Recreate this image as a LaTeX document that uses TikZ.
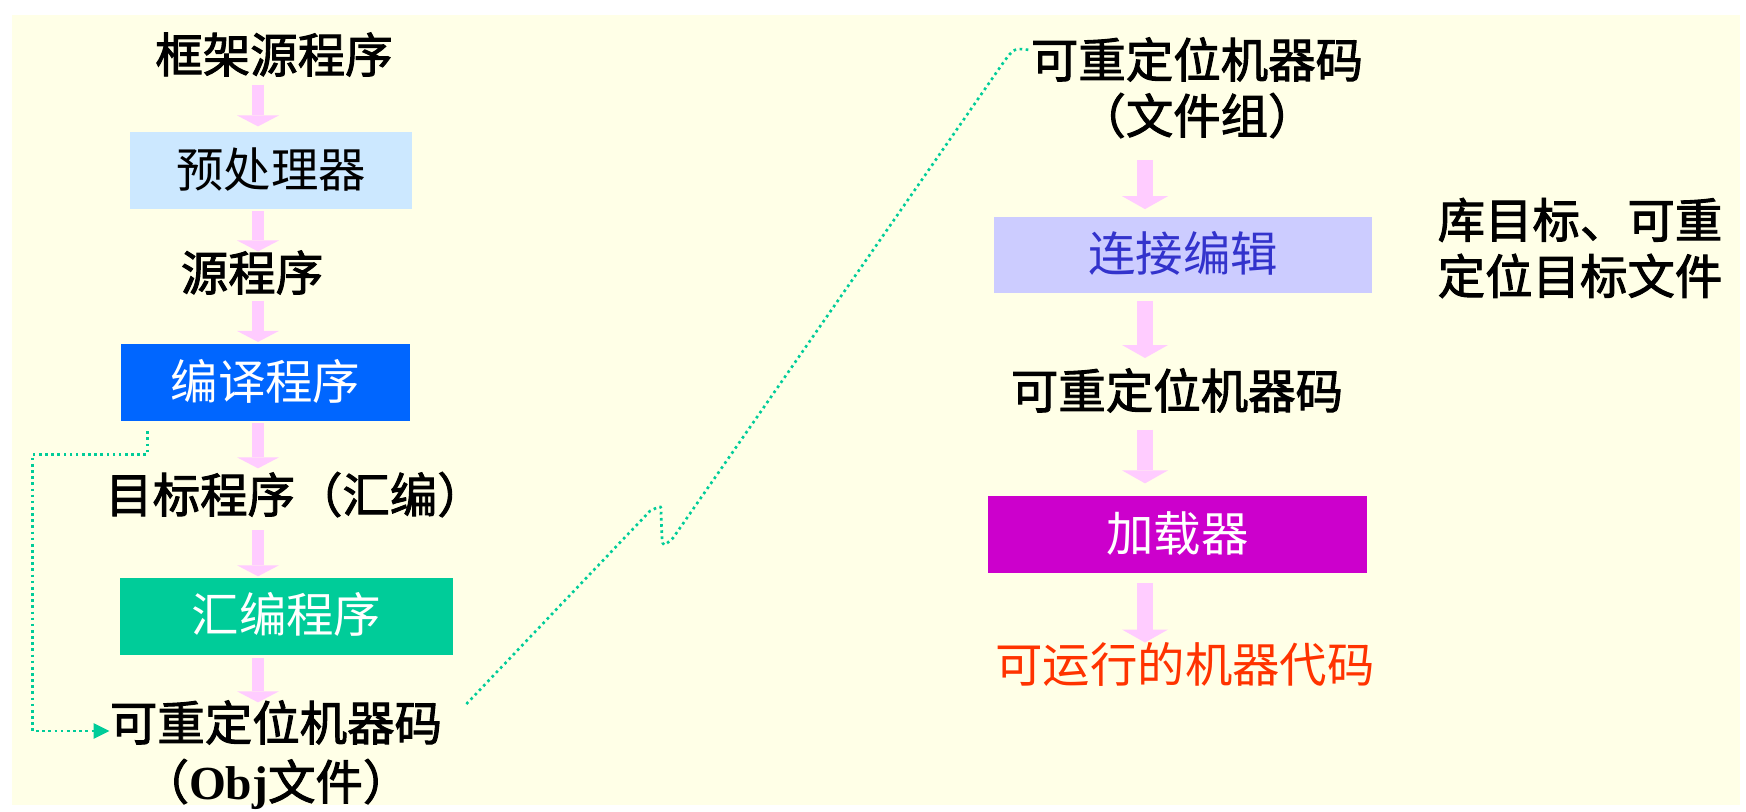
\documentclass[tikz,border=0pt]{standalone}
\usepackage{fontspec}
\setmainfont{Noto Sans CJK SC}
\newfontfamily\grueso{Noto Sans CJK SC}[FakeBold=2]
\newfontfamily\objfont{Liberation Serif}
\usetikzlibrary{arrows.meta,calc}

\definecolor{fondo}{HTML}{FFFFE7}
\definecolor{celeste}{HTML}{CCE8FF}
\definecolor{azul}{HTML}{0066FF}
\definecolor{verde}{HTML}{00CC99}
\definecolor{lila}{HTML}{CCCCFF}
\definecolor{azulosc}{HTML}{3333CC}
\definecolor{morado}{HTML}{CC00CC}
\definecolor{naranja}{HTML}{FF3300}
\definecolor{rosa}{HTML}{FFCCFF}

\tikzset{
  lbl/.style={inner sep=0pt, text height=21.6pt, text depth=2.7pt,
    font=\fontsize{27}{33}\selectfont},
  negro/.style={lbl, font=\grueso\fontsize{27}{33}\selectfont},
  caja/.style={lbl, minimum height=1.54cm},
  flecha/.style={draw=rosa, line width=0.24cm,
    -{Triangle[width=0.84cm, length=0.22cm, line width=0pt]}},
  flechaR/.style={draw=rosa, line width=0.32cm,
    -{Triangle[width=0.92cm, length=0.26cm, line width=0pt]}},
  punteado/.style={draw=verde, dotted, line width=1.5pt}
}

\begin{document}
\begin{tikzpicture}[x=0.02cm, y=-0.02cm]

  % Fondo
  \useasboundingbox (0,0) rectangle (1746,811);
  \fill[white] (0,0) rectangle (1746,811);
  \fill[fondo] (12,15) rectangle (1740,805);

  % Ejes de las flechas
  \coordinate (ejeI) at (258,0);
  \coordinate (ejeD) at (1145,0);

  % Columna izquierda
  \node[negro] (marco) at (274,56) {框架源程序};
  \node[caja, fill=celeste, minimum width=5.64cm]
    (preproc) at (271,170.5) {预处理器};
  \node[negro] (fuente) at (252,274) {源程序};
  \node[caja, fill=azul, text=white, minimum width=5.78cm]
    (compilador) at (265.5,382.5) {编译程序};
  \node[negro] (objeto) at (295,496) {目标程序（汇编）};
  \node[caja, fill=verde, text=white, minimum width=6.66cm]
    (ensamblador) at (286.5,616) {汇编程序};
  \node[negro] (reubic) at (276,724) {可重定位机器码};
  \node[negro] (objarch) at (276,783) {（{\objfont\bfseries Obj}文件）};

  % Columna derecha
  \node[negro] (reubicA) at (1197,61) {可重定位机器码};
  \node[negro] (grupo) at (1197,117) {（文件组）};
  \node[caja, fill=lila, text=azulosc, minimum width=7.56cm]
    (enlace) at (1183,255) {连接编辑};
  \node[inner sep=0pt, align=center, font=\grueso\fontsize{27}{32}\selectfont]
    (biblio) at (1580,248) {库目标、可重\\定位目标文件};
  \node[negro] (reubicB) at (1177,392) {可重定位机器码};
  \node[caja, fill=morado, text=white, minimum width=7.58cm]
    (cargador) at (1177.5,534.5) {加载器};
  \node[lbl, text=naranja] (ejec) at (1185,666) {可运行的机器代码};

  % Flechas izquierda
  \draw[flecha, shorten <=4pt, shorten >=3pt]
    (marco.south -| ejeI) -- (preproc.north -| ejeI);
  \draw[flecha, shorten <=1pt, shorten >=0.5pt]
    (preproc.south -| ejeI) -- (fuente.north -| ejeI);
  \draw[flecha, shorten <=3pt, shorten >=1pt]
    (fuente.south -| ejeI) -- (compilador.north -| ejeI);
  \draw[flecha, shorten <=1pt, shorten >=3.4pt]
    (compilador.south -| ejeI) -- (objeto.north -| ejeI);
  \draw[flecha, shorten <=7pt, shorten >=0.5pt]
    (objeto.south -| ejeI) -- (ensamblador.north -| ejeI);
  \draw[flecha, shorten <=2pt]
    (ensamblador.south -| ejeI) -- (reubic.north -| ejeI);

  % Flechas derecha
  \draw[flechaR, shorten <=12pt, shorten >=4pt]
    (grupo.south -| ejeD) -- (enlace.north -| ejeD);
  \draw[flechaR, shorten <=4pt, shorten >=7pt]
    (enlace.south -| ejeD) -- (reubicB.north -| ejeD);
  \draw[flechaR, shorten <=9pt, shorten >=7pt]
    (reubicB.south -| ejeD) -- (cargador.north -| ejeD);
  \draw[flechaR, shorten <=5.7pt, shorten >=1pt]
    (cargador.south -| ejeD) -- (ejec.north -| ejeD);

  % Retorno punteado
  \draw[punteado, -{Triangle[width=0.3cm, length=0.32cm]}]
    ($(compilador.south west)+(27,10)$) -- ++(0,23) -- ++(-115,0)
    |- ($(reubic.west)+(0,7)$);

  % Enlace entre columnas
  \draw[punteado]
    ($(reubic.east)+(24,-20)$) -- (650,511)
    .. controls (662,505) .. (661,514)
    -- (662,538)
    .. controls (663,547) .. (673,538)
    -- (1003,63)
    .. controls (1014,48) .. ($(reubicA.west)+(-1,-11)$);

\end{tikzpicture}
\end{document}
